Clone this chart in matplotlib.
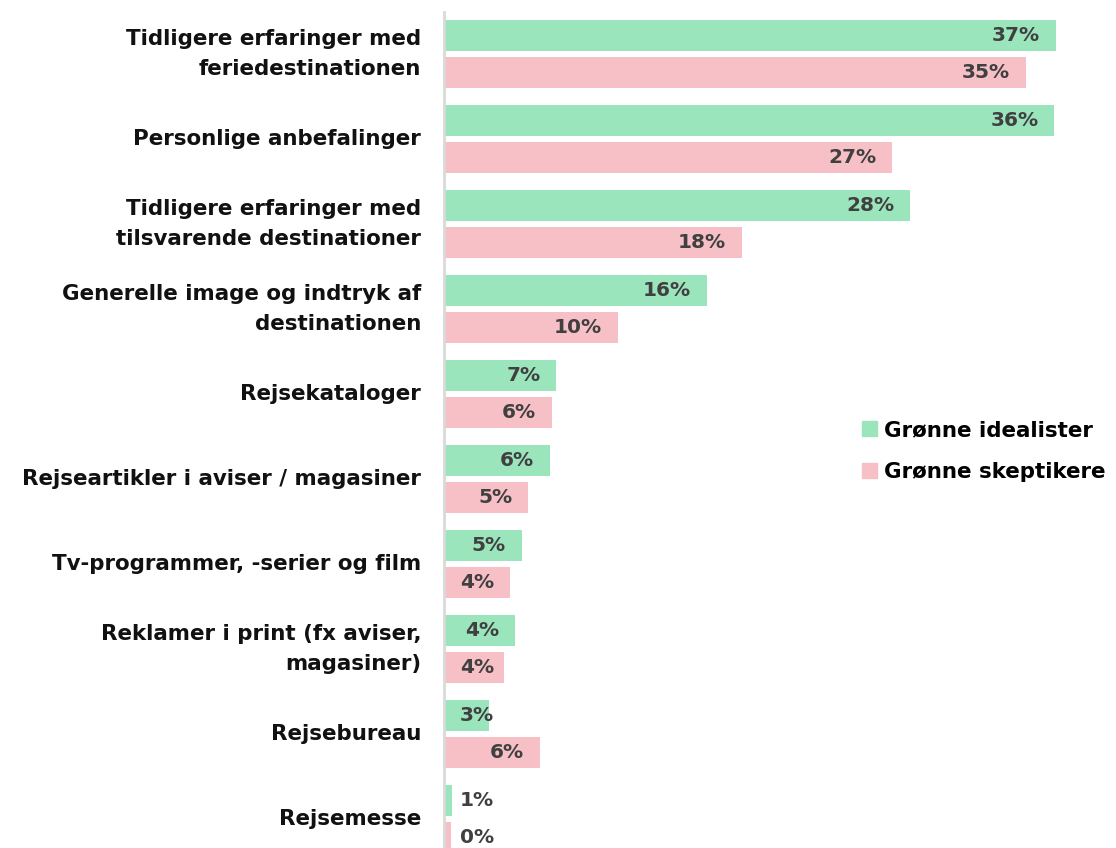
import matplotlib
matplotlib.use("Agg")
import matplotlib.pyplot as plt
import matplotlib.transforms as mtransforms
from matplotlib.patches import Patch
import numpy as np

categories = [
    "Tidligere erfaringer med\nferiedestinationen",
    "Personlige anbefalinger",
    "Tidligere erfaringer med\ntilsvarende destinationer",
    "Generelle image og indtryk af\ndestinationen",
    "Rejsekataloger",
    "Rejseartikler i aviser / magasiner",
    "Tv-programmer, -serier og film",
    "Reklamer i print (fx aviser,\nmagasiner)",
    "Rejsebureau",
    "Rejsemesse",
]
idealister = [37.0, 36.9, 28.2, 15.9, 6.8, 6.4, 4.7, 4.3, 2.7, 0.5]
skeptikere = [35.2, 27.1, 18.0, 10.5, 6.5, 5.1, 4.0, 3.6, 5.8, 0.4]
idealister_lbl = ["37%", "36%", "28%", "16%", "7%", "6%", "5%", "4%", "3%", "1%"]
skeptikere_lbl = ["35%", "27%", "18%", "10%", "6%", "5%", "4%", "4%", "6%", "0%"]
series_names = ["Grønne idealister", "Grønne skeptikere"]

GREEN = "#9be5bd"
PINK = "#f7c0c6"
FONT = "DejaVu Sans"
FS = 15.4   # category / legend text
VFS = 14.5  # value labels

W, H = 1116, 848
fig = plt.figure(figsize=(W / 100, H / 100), dpi=100)
# axes: left edge at x=444px, top at 12px, bottom at figure bottom
ax = fig.add_axes([444 / W, 0, 1 - 444 / W, 1 - 12 / H])

y = np.arange(len(categories))
off = 0.218
bh = 0.365
ax.barh(y - off, idealister, height=bh, color=GREEN, label=series_names[0])
ax.barh(y + off, skeptikere, height=bh, color=PINK, label=series_names[1])

px_per_unit = 16.54
ax.set_xlim(0, (W - 444) / px_per_unit)
ax.set_ylim((H - 54) / 85, (12 - 54) / 85)

ax.set_yticks(y)
ax.set_yticklabels(categories, fontsize=FS, fontweight="bold", family=FONT,
                   color="#111111", linespacing=1.6)
ax.tick_params(axis="y", length=0, pad=16.5)
ax.set_xticks([])
for s in ["top", "right", "bottom"]:
    ax.spines[s].set_visible(False)
ax.spines["left"].set_color("#d9d9d9")
ax.spines["left"].set_linewidth(2)

# nudge tick labels up a little (two-line ones sit lower in matplotlib)
for lab in ax.get_yticklabels():
    dy = 7 if "\n" in lab.get_text() else 2
    lab.set_transform(lab.get_transform() +
                      mtransforms.ScaledTranslation(0, dy / 100, fig.dpi_scale_trans))

# value labels: inside the bar end, but never closer than 16px to the axis
texts = []
for vals, lbls, dy in [(idealister, idealister_lbl, -off), (skeptikere, skeptikere_lbl, off)]:
    for i, (v, t) in enumerate(zip(vals, lbls)):
        txt = ax.annotate(t, (v, i + dy), xytext=(-16, 0), textcoords="offset pixels",
                          ha="right", va="center", fontsize=VFS, fontweight="bold",
                          family=FONT, color="#404040")
        texts.append((txt, i + dy))

fig.canvas.draw()
renderer = fig.canvas.get_renderer()
x0_px = ax.transData.transform((0, 0))[0]
for txt, yy in texts:
    bb = txt.get_window_extent(renderer)
    if bb.x0 < x0_px + 16:
        txt.xy = (0, yy)
        txt.set_position((16, 0))
        txt.set_ha("left")

handles = [Patch(color=GREEN), Patch(color=PINK)]
fig.legend(handles, series_names, loc="center left", bbox_to_anchor=(843 / W, 1 - 451 / H),
           frameon=False, handlelength=0.7, handleheight=0.7, handletextpad=0.3,
           labelspacing=1.0, prop={"family": FONT, "weight": "bold", "size": FS})

fig.savefig("out.png", dpi=100)
